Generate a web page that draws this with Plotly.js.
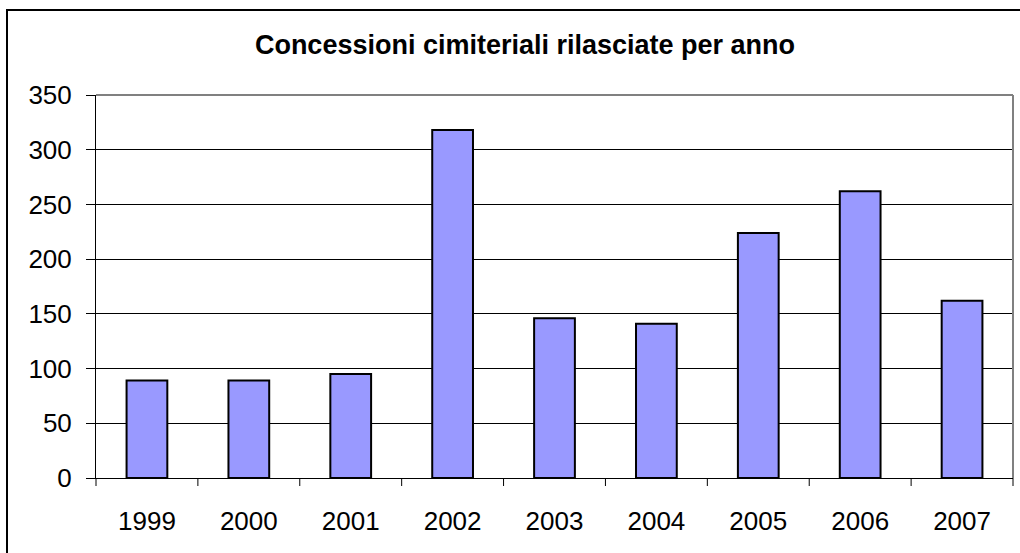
<!DOCTYPE html>
<html>
<head>
<meta charset="utf-8">
<script src="https://cdn.plot.ly/plotly-3.0.1.min.js"></script>
<style>
html,body{margin:0;padding:0;background:#fff;}
#chart{width:1020px;height:553px;}
</style>
</head>
<body>
<div id="chart"></div>
<script>
const years = ["1999","2000","2001","2002","2003","2004","2005","2006","2007"];
const concessioni = [89, 89, 95, 318, 146, 141, 224, 262, 162];
const yTicks = [0, 50, 100, 150, 200, 250, 300, 350];
const chartTitle = "Concessioni cimiteriali rilasciate per anno";

const L = 96, R = 7, T = 95, B = 75, W = 1020, H = 553;
const pw = W - L - R, ph = H - T - B;
const px = v => (v - L) / pw;
const py = v => 1 - (v - T) / ph;

const trace = {
  type: "bar",
  x: years,
  y: concessioni,
  marker: {color: "#9999FF", line: {color: "#000000", width: 2}},
  hoverinfo: "x+y"
};

const layout = {
  width: W, height: H,
  margin: {l: L, r: R, t: T, b: B, pad: 0},
  paper_bgcolor: "#ffffff",
  plot_bgcolor: "#ffffff",
  bargap: 0.6,
  showlegend: false,
  font: {family: "Liberation Sans, Arial, sans-serif", size: 26, color: "#000"},
  title: {
    text: "<b>" + chartTitle + "</b>",
    font: {family: "Liberation Sans, Arial, sans-serif", size: 27, color: "#000"},
    xref: "container", x: 525 / W, xanchor: "center", y: 1 - 45 / H, yanchor: "middle"
  },
  xaxis: {
    type: "category",
    showgrid: false,
    showline: true, linecolor: "#000", linewidth: 1,
    ticks: "", ticklen: 0,
    ticklabelstandoff: 20,
    tickfont: {size: 26},
    fixedrange: true
  },
  yaxis: {
    range: [0, 350],
    tickvals: yTicks,
    ticktext: yTicks.map(String),
    showgrid: true, gridcolor: "#000", gridwidth: 1,
    zeroline: false,
    showline: true, linecolor: "#000", linewidth: 1,
    ticks: "outside", ticklen: 9, tickcolor: "#000", tickwidth: 1,
    ticklabelstandoff: 9,
    tickfont: {size: 26},
    fixedrange: true
  },
  shapes: [
    {type: "line", xref: "paper", yref: "paper", x0: 1, x1: 1, y0: 0, y1: 1, line: {color: "#808080", width: 2}},
    {type: "line", xref: "paper", yref: "paper", x0: 0, x1: 1, y0: 1, y1: 1, line: {color: "#808080", width: 2}},
    {type: "rect", xref: "paper", yref: "paper", x0: px(7), x1: px(1030), y0: py(10), y1: py(570), line: {color: "#000", width: 2}, layer: "below"}
  ]
};

for (let i = 0; i <= years.length; i++) {
  layout.shapes.push({
    type: "line", xref: "paper", yref: "paper",
    x0: i / years.length, x1: i / years.length,
    y0: 0, y1: -8 / ph,
    line: {color: "#000", width: 1}
  });
}

Plotly.newPlot("chart", [trace], layout, {displayModeBar: false, staticPlot: true});
</script>
</body>
</html>
